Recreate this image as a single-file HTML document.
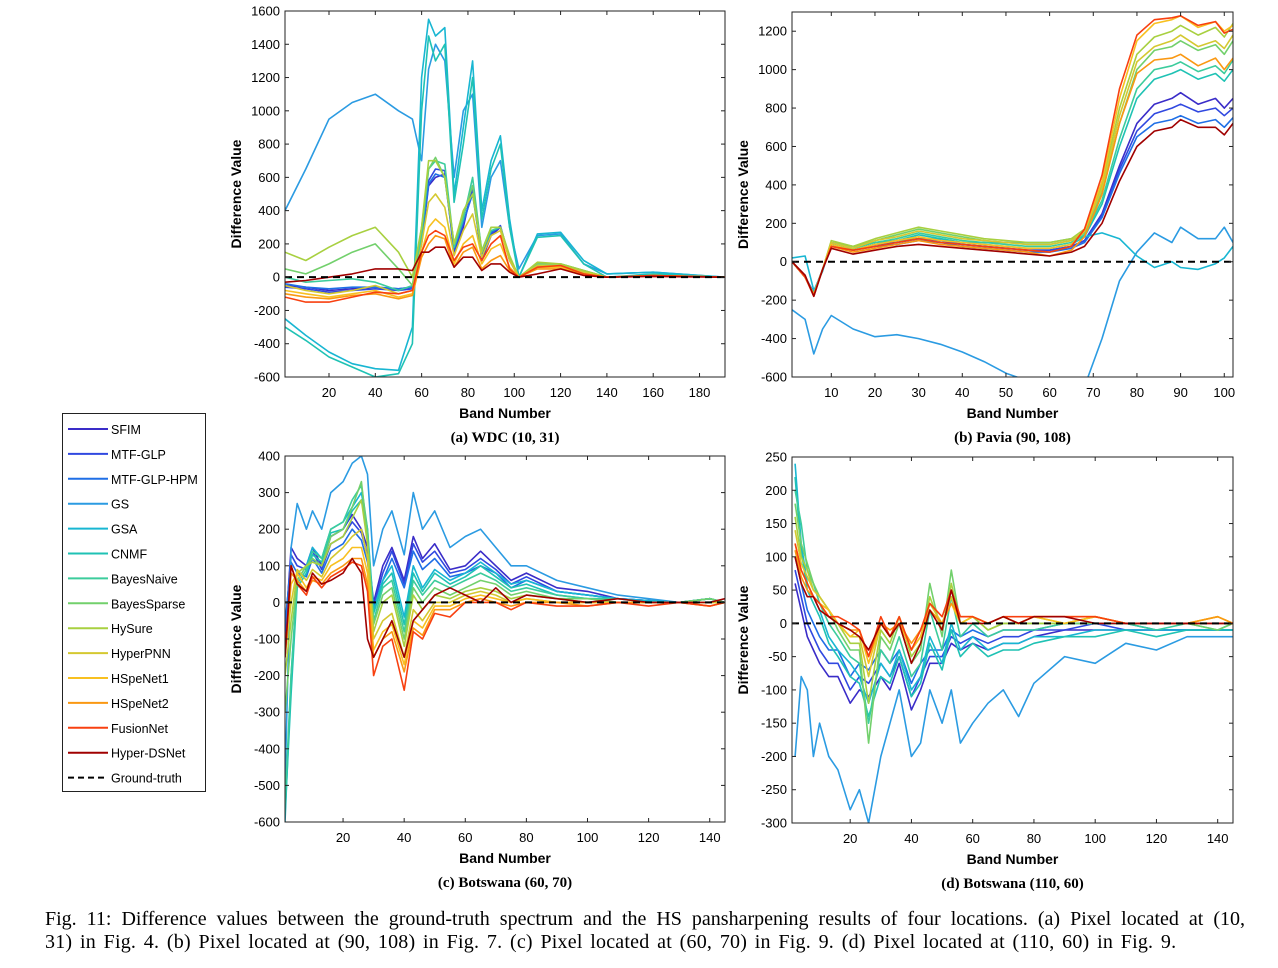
<!DOCTYPE html>
<html><head><meta charset="utf-8"><style>
body{margin:0;background:#fff;width:1278px;height:968px;overflow:hidden;font-family:"Liberation Sans",sans-serif}
svg{position:absolute;left:0;top:0}
#cap{position:absolute;left:45px;top:908px;width:1200px;font-family:"Liberation Serif",serif;font-size:20px;line-height:23px;color:#000}
#cap .l1{text-align:justify;text-align-last:justify;white-space:nowrap;word-spacing:1px}
#cap .l2{text-align:left;white-space:nowrap;word-spacing:2.5px;letter-spacing:0.2px}
</style></head><body>
<svg id="fig" width="1278" height="968"></svg>
<div id="cap"><div class="l1">Fig. 11: Difference values between the ground-truth spectrum and the HS pansharpening results of four locations. (a) Pixel located at (10,</div><div class="l2">31) in Fig. 4. (b) Pixel located at (90, 108) in Fig. 7. (c) Pixel located at (60, 70) in Fig. 9. (d) Pixel located at (110, 60) in Fig. 9.</div></div>
<script>
const names=["SFIM","MTF-GLP","MTF-GLP-HPM","GS","GSA","CNMF","BayesNaive","BayesSparse","HySure","HyperPNN","HSpeNet1","HSpeNet2","FusionNet","Hyper-DSNet"];
const colors=["#3a2cc8","#3048e0","#1f6fe6","#2b9be2","#18b6d2","#1fc2b4","#3ccc9c","#72d06c","#a8d040","#d4c830","#f8c020","#fa9812","#f84010","#a00000"];

// Panel (a) WDC
const aBands=[1,10,20,30,40,50,56,60,63,66,70,74,78,82,86,90,94,98,102,110,120,130,140,160,191];
const aVals=[
[-50,-60,-80,-70,-60,-70,-60,200,550,600,620,150,300,550,100,250,300,100,0,60,70,30,0,10,0],
[-60,-70,-90,-80,-70,-80,-70,220,580,650,640,160,320,520,120,260,310,110,0,60,60,30,0,10,0],
[-40,-60,-70,-60,-60,-70,-60,210,560,620,600,170,330,500,130,270,300,110,0,60,60,30,0,10,0],
[400,650,950,1050,1100,1000,950,700,1250,1400,1300,600,1000,1100,300,600,700,300,50,250,260,80,20,30,0],
[-250,-350,-450,-520,-550,-560,-300,1200,1550,1450,1500,500,900,1300,400,700,850,350,0,260,270,100,20,30,0],
[-300,-380,-480,-540,-600,-580,-400,1000,1450,1300,1400,450,800,1200,350,650,800,300,0,240,250,80,0,20,0],
[0,-30,-20,-10,-30,-80,-50,250,650,700,680,180,350,600,150,280,300,120,0,80,80,40,0,10,0],
[50,20,80,150,200,50,-50,300,650,720,600,200,380,550,160,300,300,120,0,80,80,40,0,10,0],
[150,100,180,250,300,150,0,300,700,700,600,200,400,500,150,300,300,130,0,90,80,40,0,10,0],
[-50,-80,-100,-80,-50,-100,-80,200,450,500,420,130,280,380,120,250,280,100,0,70,70,30,0,10,0],
[-80,-100,-120,-100,-80,-120,-100,150,300,350,300,80,200,250,80,170,200,60,0,60,60,20,0,10,0],
[-100,-120,-130,-110,-100,-130,-110,120,200,250,230,60,150,180,50,100,130,40,0,50,50,20,0,10,0],
[-120,-150,-150,-120,-90,-100,-80,150,250,280,250,100,180,200,100,200,250,50,0,60,70,20,0,10,0],
[-30,-20,0,20,50,50,40,150,150,180,180,60,120,120,40,80,80,30,0,20,50,10,0,5,0]];

// Panel (b) Pavia
const bBands=[1,4,6,8,10,15,20,25,30,35,40,45,50,55,60,65,68,72,76,80,84,88,90,94,98,100,102];
const bVals=[
[0,-80,-160,-40,90,60,90,100,120,110,90,80,70,60,60,80,110,250,500,720,820,850,880,820,850,800,850],
[0,-80,-160,-40,90,60,90,100,120,110,90,80,70,60,60,80,110,240,480,680,770,800,820,780,800,760,800],
[0,-80,-160,-40,90,60,80,90,110,100,80,70,60,50,50,70,100,230,460,650,720,740,760,720,740,700,750],
[-250,-300,-480,-350,-280,-350,-390,-380,-400,-430,-470,-520,-580,-620,-680,-700,-650,-400,-100,50,150,100,180,120,120,180,100],
[20,30,-150,-50,100,80,100,110,120,120,100,100,100,100,100,120,130,150,120,30,-30,0,-30,-40,-10,20,80],
[0,-80,-170,-40,90,60,90,110,140,120,100,90,80,70,70,90,130,300,600,850,950,980,1000,950,980,940,1000],
[0,-80,-170,-40,100,70,100,120,150,130,110,100,90,80,80,100,140,320,640,900,1000,1020,1040,990,1020,980,1050],
[0,-80,-170,-40,100,80,110,140,170,150,130,110,100,90,90,110,150,360,720,1000,1100,1120,1150,1100,1130,1080,1150],
[0,-80,-170,-40,110,80,120,150,180,160,140,120,110,100,100,120,170,400,800,1080,1170,1200,1230,1180,1220,1170,1240],
[0,-80,-170,-40,100,70,110,130,160,140,120,110,100,90,90,110,160,380,760,1040,1120,1150,1180,1120,1150,1110,1180],
[0,-80,-170,-40,90,60,90,110,130,110,100,90,80,70,70,90,160,420,850,1150,1240,1260,1280,1220,1250,1200,1230],
[0,-80,-170,-40,80,50,70,90,110,90,80,70,60,50,30,60,130,350,720,980,1050,1060,1080,1020,1060,1000,1060],
[0,-80,-180,-40,80,60,80,100,120,100,90,80,70,60,50,80,170,450,900,1180,1260,1270,1280,1230,1250,1190,1210],
[0,-70,-180,-40,70,40,60,80,90,80,70,60,50,40,30,50,80,200,420,600,680,700,740,700,700,660,720]];

// Panel (c) Botswana (60,70)
const cBands=[1,3,5,8,10,13,16,20,23,26,28,30,33,36,40,43,46,50,55,60,65,70,75,80,90,100,110,120,130,140,145];
const cVals=[
[-100,150,120,100,150,100,180,200,240,200,150,0,100,150,60,180,120,160,90,100,140,100,60,80,40,30,10,5,0,10,0],
[-80,130,100,90,140,90,160,180,220,190,130,-10,80,140,50,160,110,140,80,90,120,90,50,70,30,20,10,5,0,10,0],
[-60,110,80,70,120,80,140,160,200,170,110,-20,60,120,40,140,90,120,70,80,100,80,40,60,30,20,10,5,0,10,0],
[-500,150,270,200,250,200,300,330,380,400,350,100,200,250,130,300,200,250,150,180,200,150,100,100,60,40,20,10,0,10,0],
[-600,-200,60,100,150,120,200,220,260,300,200,-20,60,100,-40,100,40,90,60,80,110,80,50,60,30,20,10,5,0,10,0],
[-580,-250,40,80,130,110,190,200,250,280,190,-30,50,80,-60,80,30,80,50,70,100,70,40,50,20,10,10,0,0,10,0],
[-550,-200,50,90,140,120,200,220,280,320,200,-50,40,60,-80,60,20,60,40,60,80,60,30,40,20,10,10,0,0,10,0],
[-300,-100,60,100,120,100,180,200,260,330,180,-60,20,40,-100,40,0,40,20,40,60,50,20,30,10,10,0,0,0,10,0],
[-200,-50,80,100,110,100,160,180,230,280,160,-80,0,20,-120,20,-20,20,10,30,40,30,10,20,10,0,0,0,0,0,0],
[-150,0,90,60,90,70,120,150,180,200,120,-100,-50,-30,-150,-20,-50,0,0,20,30,20,0,10,0,0,0,0,0,0,0],
[-150,50,80,40,70,60,100,120,150,150,80,-130,-80,-60,-170,-50,-70,-10,-10,10,20,10,0,10,0,0,0,0,0,-10,0],
[-150,80,60,30,60,50,80,100,120,120,50,-150,-100,-80,-190,-70,-90,-20,-20,0,10,0,-10,0,0,-10,0,0,0,-10,0],
[-150,100,50,20,70,40,70,90,110,100,30,-200,-120,-100,-240,-80,-100,-30,-40,0,0,0,-20,0,-10,-10,0,-10,0,-10,0],
[-150,100,50,30,80,50,60,80,120,80,-100,-150,-100,-50,-150,-50,-20,20,40,20,0,40,0,20,10,0,10,0,0,0,10]];

// Panel (d) Botswana (110,60)
const dBands=[2,4,6,8,10,13,16,20,23,26,30,33,36,40,43,46,50,53,56,60,65,70,75,80,90,100,110,120,130,140,145];
const dVals=[
[60,20,-20,-40,-60,-80,-80,-120,-100,-110,-80,-100,-60,-130,-100,-60,-60,-30,-40,-30,-40,-30,-30,-20,-10,-10,-10,-10,-10,-10,-10],
[80,40,0,-20,-40,-60,-60,-100,-80,-90,-60,-80,-50,-110,-80,-50,-50,-20,-30,-20,-30,-20,-20,-10,-10,0,-10,-10,-10,-10,-10],
[100,60,20,0,-20,-40,-40,-80,-60,-70,-40,-60,-40,-90,-60,-40,-40,-10,-20,-10,-20,-10,-10,-10,0,0,0,-10,-10,-10,-10],
[-200,-80,-100,-200,-150,-200,-220,-280,-250,-300,-200,-150,-100,-200,-180,-100,-150,-100,-180,-150,-120,-100,-140,-90,-50,-60,-30,-40,-20,-20,-20],
[240,120,60,40,20,-20,-40,-60,-80,-120,-60,-80,-40,-100,-80,-20,-60,0,-40,-20,-40,-30,-30,-20,-20,-10,-10,-10,-10,-10,-10],
[220,110,50,30,10,-30,-50,-80,-90,-140,-80,-90,-50,-110,-90,-30,-70,-10,-50,-30,-50,-40,-40,-30,-20,-20,-10,-20,-10,-10,-10],
[200,150,80,60,30,0,-20,-50,-60,-150,-40,-60,-20,-80,-60,20,-40,40,-20,0,-20,-10,-10,-10,0,0,0,-10,0,-10,0],
[180,120,90,60,40,20,-10,-40,-40,-180,-20,-40,0,-60,-40,60,-20,80,0,10,-10,0,0,0,0,0,0,0,0,-10,0],
[160,100,80,50,40,20,0,-30,-30,-120,-10,-30,10,-50,-30,40,-10,60,0,10,-10,0,0,0,0,10,0,0,0,0,0],
[140,90,70,50,40,20,0,-20,-20,-80,0,-20,10,-40,-20,30,0,40,0,10,0,10,0,10,0,10,0,0,0,10,0],
[120,80,60,40,30,20,0,-20,-10,-60,0,-20,0,-40,-20,20,0,30,0,10,0,10,0,10,0,10,0,0,0,10,0],
[110,70,50,40,30,10,0,-10,-10,-50,0,-10,0,-30,-10,20,0,30,10,10,0,10,0,10,10,10,0,0,0,10,0],
[120,80,60,40,30,10,10,0,-10,-50,10,-20,10,-40,-10,30,10,50,10,10,0,10,10,10,10,10,0,0,0,0,0],
[100,60,40,40,20,10,0,-10,-20,-40,0,-20,0,-60,-30,20,-10,50,0,0,0,10,0,10,10,0,0,0,0,0,0]];

const aYTicks=[-600,-400,-200,0,200,400,600,800,1000,1200,1400,1600];
const bYTicks=[-600,-400,-200,0,200,400,600,800,1000,1200];
const cYTicks=[-600,-500,-400,-300,-200,-100,0,100,200,300,400];
const dYTicks=[-300,-250,-200,-150,-100,-50,0,50,100,150,200,250];
const aXTicks=[20,40,60,80,100,120,140,160,180];
const bXTicks=[10,20,30,40,50,60,70,80,90,100];
const cXTicks=[20,40,60,80,100,120,140];
const dXTicks=[20,40,60,80,100,120,140];

const NS="http://www.w3.org/2000/svg";
const fig=document.getElementById('fig');
function mk(tag,attrs,parent){const e=document.createElementNS(NS,tag);for(const k in attrs)e.setAttribute(k,attrs[k]);(parent||fig).appendChild(e);return e;}

const panels=[
{id:"a",x0:285,x1:725,y0:11,y1:377,xmin:1,xmax:191,ymin:-600,ymax:1600,bands:aBands,vals:aVals,yt:aYTicks,xt:aXTicks,cap:"(a) WDC (10, 31)"},
{id:"b",x0:792,x1:1233,y0:12,y1:377,xmin:1,xmax:102,ymin:-600,ymax:1300,bands:bBands,vals:bVals,yt:bYTicks,xt:bXTicks,cap:"(b) Pavia (90, 108)"},
{id:"c",x0:285,x1:725,y0:456,y1:822,xmin:1,xmax:145,ymin:-600,ymax:400,bands:cBands,vals:cVals,yt:cYTicks,xt:cXTicks,cap:"(c) Botswana (60, 70)"},
{id:"d",x0:792,x1:1233,y0:457,y1:823,xmin:1,xmax:145,ymin:-300,ymax:250,bands:dBands,vals:dVals,yt:dYTicks,xt:dXTicks,cap:"(d) Botswana (110, 60)"}];

panels.forEach(p=>{
  const sx=v=>p.x0+(v-p.xmin)/(p.xmax-p.xmin)*(p.x1-p.x0);
  const sy=v=>p.y1-(v-p.ymin)/(p.ymax-p.ymin)*(p.y1-p.y0);
  const g=mk('g',{});
  
  
  const defs=mk('defs',{},g);
  const cp=mk('clipPath',{id:'clip'+p.id},defs);
  mk('rect',{x:p.x0,y:p.y0,width:p.x1-p.x0,height:p.y1-p.y0},cp);
  const lines=mk('g',{'clip-path':'url(#clip'+p.id+')'},g);
  p.vals.forEach((s,i)=>{
    const pts=s.map((v,j)=>sx(p.bands[j]).toFixed(1)+","+sy(v).toFixed(1)).join(" ");
    const pl=mk('polyline',{points:pts,fill:'none',stroke:colors[i],'stroke-width':1.6,'stroke-linejoin':'round'},lines);
    
    
  });
  const gt=mk('line',{x1:p.x0,x2:p.x1,y1:sy(0),y2:sy(0),stroke:'#000','stroke-width':2,'stroke-dasharray':'7,5'},g);
  
  
  mk('rect',{x:p.x0,y:p.y0,width:p.x1-p.x0,height:p.y1-p.y0,fill:'none',stroke:'#222','stroke-width':1},g);
  p.yt.forEach(t=>{
    const y=sy(t);
    mk('line',{x1:p.x0,x2:p.x0+4,y1:y,y2:y,stroke:'#222'},g);
    mk('line',{x1:p.x1,x2:p.x1-4,y1:y,y2:y,stroke:'#222'},g);
    const tx=mk('text',{x:p.x0-5,y:y+4.5,'text-anchor':'end','font-size':13},g);tx.textContent=t;
    
    
  });
  p.xt.forEach(t=>{
    const x=sx(t);
    mk('line',{x1:x,x2:x,y1:p.y1,y2:p.y1-4,stroke:'#222'},g);
    mk('line',{x1:x,x2:x,y1:p.y0,y2:p.y0+4,stroke:'#222'},g);
    const tx=mk('text',{x:x,y:p.y1+20,'text-anchor':'middle','font-size':13},g);tx.textContent=t;
    
    
  });
  const cx=(p.x0+p.x1)/2;
  const xl=mk('text',{x:cx,y:p.y1+41,'text-anchor':'middle','font-size':14,'font-weight':'bold'},g);xl.textContent="Band Number";
  
  
  const yc=(p.y0+p.y1)/2;
  const yl=mk('text',{x:p.x0-44,y:yc,'text-anchor':'middle','font-size':14,'font-weight':'bold',transform:'rotate(-90 '+(p.x0-44)+' '+yc+')'},g);yl.textContent="Difference Value";
  
  
  const ct=mk('text',{x:cx,y:p.y1+65,'text-anchor':'middle','font-size':15,'font-weight':'bold','font-family':'Liberation Serif, serif'},g);ct.textContent=p.cap;
  
  
});

// Legend
const lg=mk('g',{});


mk('rect',{x:62.5,y:413.5,width:143,height:378,fill:'#fff',stroke:'#222'},lg);
names.concat(["Ground-truth"]).forEach((n,i)=>{
  const y=429+i*24.9;
  const ln=mk('line',{x1:68,x2:108,y1:y,y2:y,stroke:i<14?colors[i]:'#000','stroke-width':2,'stroke-dasharray':i<14?'none':'6,4'},lg);
  const t=mk('text',{x:111,y:y+5,'font-size':12.5},lg);t.textContent=n;
  
  
});
</script>
</body></html>
